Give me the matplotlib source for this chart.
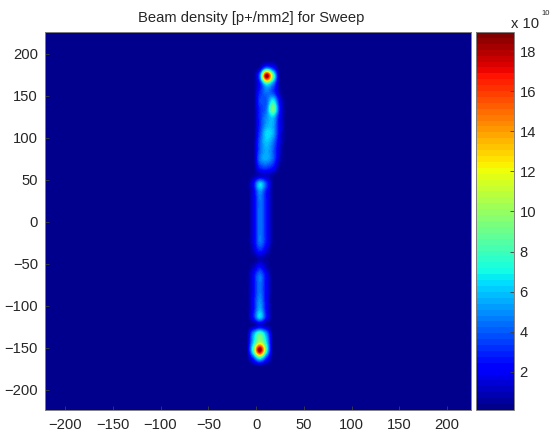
import numpy as np
import matplotlib
matplotlib.use('Agg')
import matplotlib.pyplot as plt
from matplotlib.colors import ListedColormap

plt.rcParams['font.family'] = ['Liberation Sans', 'DejaVu Sans']

# densidade, em unidades de 1e10 p+/mm2
# colunas em x (mm), linhas em y (mm) de cima para baixo
x_cols = [-10, -3, 4, 11, 18, 25, 32]
y_top = 192.8
y_bottom = -172.8
densidade = np.array([
    [0.1, 0.1, 0.1, 0.1, 0.1, 0.1, 0.1],
    [0.1, 0.1, 0.8, 4.0, 2.5, 0.1, 0.1],
    [0.1, 0.1, 4.5, 18.9, 9.0, 0.3, 0.1],
    [0.1, 0.1, 2.5, 7.0, 4.5, 0.5, 0.1],
    [0.1, 0.1, 3.0, 4.5, 3.5, 0.8, 0.1],
    [0.1, 0.1, 3.5, 4.0, 7.0, 2.0, 0.1],
    [0.1, 0.1, 3.0, 4.5, 9.5, 2.5, 0.1],
    [0.1, 0.1, 3.0, 5.0, 6.0, 2.0, 0.1],
    [0.1, 0.1, 3.0, 5.5, 5.5, 2.0, 0.1],
    [0.1, 0.1, 3.5, 6.5, 5.5, 1.8, 0.1],
    [0.1, 0.1, 4.0, 6.0, 4.5, 1.5, 0.1],
    [0.1, 0.1, 4.0, 5.5, 4.0, 1.2, 0.1],
    [0.1, 0.1, 4.5, 5.5, 4.0, 1.0, 0.1],
    [0.1, 0.1, 3.0, 3.5, 2.5, 0.4, 0.1],
    [0.1, 0.5, 1.2, 1.2, 0.5, 0.1, 0.1],
    [0.1, 2.0, 6.5, 3.5, 0.3, 0.1, 0.1],
    [0.1, 1.5, 5.0, 2.5, 0.3, 0.1, 0.1],
    [0.1, 1.5, 4.5, 2.5, 0.3, 0.1, 0.1],
    [0.1, 1.5, 4.5, 2.5, 0.3, 0.1, 0.1],
    [0.1, 1.5, 4.5, 2.5, 0.3, 0.1, 0.1],
    [0.1, 1.5, 4.5, 2.5, 0.3, 0.1, 0.1],
    [0.1, 1.5, 4.5, 2.5, 0.3, 0.1, 0.1],
    [0.1, 1.5, 4.5, 2.5, 0.3, 0.1, 0.1],
    [0.1, 1.0, 3.0, 1.5, 0.1, 0.1, 0.1],
    [0.1, 0.2, 0.8, 0.5, 0.1, 0.1, 0.1],
    [0.1, 1.0, 2.5, 1.0, 0.1, 0.1, 0.1],
    [0.1, 2.0, 4.5, 2.0, 0.1, 0.1, 0.1],
    [0.1, 2.0, 4.5, 2.0, 0.1, 0.1, 0.1],
    [0.1, 2.0, 4.5, 2.0, 0.1, 0.1, 0.1],
    [0.1, 2.2, 5.0, 2.0, 0.1, 0.1, 0.1],
    [0.1, 2.2, 5.5, 2.2, 0.1, 0.1, 0.1],
    [0.1, 2.5, 6.5, 2.5, 0.1, 0.1, 0.1],
    [0.1, 0.5, 1.5, 0.7, 0.1, 0.1, 0.1],
    [0.1, 5.0, 8.5, 5.0, 0.1, 0.1, 0.1],
    [0.1, 6.0, 10.5, 6.5, 0.1, 0.1, 0.1],
    [0.1, 8.0, 18.9, 8.0, 0.1, 0.1, 0.1],
    [0.1, 3.0, 7.0, 3.0, 0.1, 0.1, 0.1],
    [0.1, 0.1, 0.1, 0.1, 0.1, 0.1, 0.1],
])
ticks_x = [-200, -150, -100, -50, 0, 50, 100, 150, 200]
ticks_y = [-200, -150, -100, -50, 0, 50, 100, 150, 200]
ticks_cb = [2, 4, 6, 8, 10, 12, 14, 16, 18]

# jet de 64 niveis como no original
cores = plt.get_cmap('jet')(np.linspace(0.0125, 1, 64))
mapa = ListedColormap(cores)
texto = '#262626'
W, H = 550, 437

fig = plt.figure(figsize=(W / 100, H / 100), dpi=100)
ax = fig.add_axes([45 / W, 1 - 410 / H, 426 / W, 378 / H])
ax.set_facecolor(cores[0])
dx = (x_cols[1] - x_cols[0]) / 2
dy = (y_top - y_bottom) / (len(densidade) - 1) / 2
im = ax.imshow(densidade, cmap=mapa, vmin=0.1, vmax=18.95, interpolation='catrom', aspect='auto',
               extent=[x_cols[0] - dx, x_cols[-1] + dx, y_bottom - dy, y_top + dy])
ax.set_xlim(-221, 225)
ax.set_ylim(-224, 226)
ax.set_xticks(ticks_x)
ax.set_yticks(ticks_y)
ax.tick_params(direction='in', length=3, width=0.6, color='#404040', labelcolor=texto, labelsize=10.6, pad=6)
ax.tick_params(axis='y', pad=5)
for s in ax.spines.values():
    s.set_color('#808080')
    s.set_linewidth(0.7)
fig.text(251 / W, 1 - 22 / H, 'Beam density [p+/mm2] for Sweep', fontsize=10.6, color=texto, ha='center', va='baseline')

cax = fig.add_axes([476 / W, 1 - 410 / H, 38 / W, 378 / H])
cb = fig.colorbar(im, cax=cax)
cb.set_ticks(ticks_cb)
cb.ax.tick_params(direction='in', length=3, width=0.6, color='#404040', labelcolor=texto, labelsize=10.6, pad=4)
cb.outline.set_edgecolor('#808080')
cb.outline.set_linewidth(0.7)
fig.text(511 / W, 1 - 28 / H, 'x 10', fontsize=10.6, color=texto, ha='left', va='baseline')
fig.text(541 / W, 1 - 15 / H, '10', fontsize=5.5, color=texto, ha='left', va='baseline')

fig.savefig('out.png', dpi=100)
